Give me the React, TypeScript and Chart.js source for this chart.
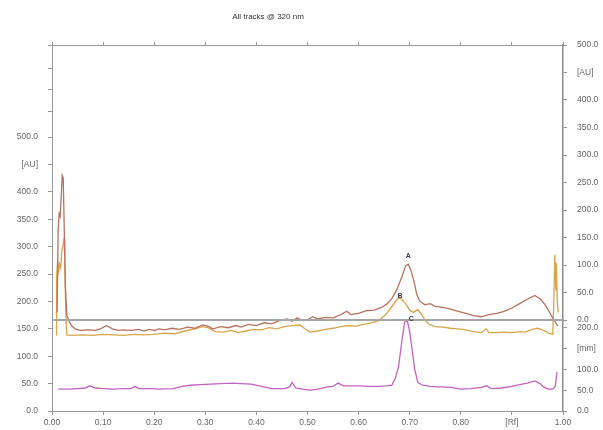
import { useEffect, useRef } from "react";
import { Chart, registerables } from "chart.js";
Chart.register(...registerables);

const titleText = "All tracks @ 320 nm";

// Track A (brown)
const rfA = [0.010, 0.012, 0.014, 0.016, 0.018, 0.020, 0.022, 0.024, 0.026, 0.029, 0.033, 0.038, 0.045, 0.055, 0.07, 0.085, 0.095, 0.107, 0.118, 0.13, 0.14, 0.155, 0.17, 0.18, 0.19, 0.2, 0.21, 0.22, 0.235, 0.25, 0.265, 0.28, 0.295, 0.305, 0.315, 0.33, 0.345, 0.36, 0.37, 0.385, 0.40, 0.415, 0.43, 0.445, 0.46, 0.47, 0.48, 0.49, 0.50, 0.51, 0.52, 0.535, 0.55, 0.565, 0.577, 0.585, 0.60, 0.615, 0.63, 0.645, 0.655, 0.665, 0.675, 0.685, 0.692, 0.697, 0.702, 0.708, 0.714, 0.72, 0.73, 0.74, 0.75, 0.765, 0.78, 0.795, 0.81, 0.825, 0.84, 0.855, 0.87, 0.885, 0.90, 0.915, 0.93, 0.945, 0.955, 0.965, 0.975, 0.985, 0.99];
const auA = [180, 330, 360, 355, 390, 430, 425, 330, 230, 175, 165, 156, 150, 147, 148, 147, 150, 156, 150, 147, 148, 147, 149, 146, 149, 147, 150, 148, 151, 149, 153, 151, 157, 155, 150, 154, 152, 156, 153, 158, 156, 161, 159, 165, 168, 164, 170, 165, 166, 172, 168, 171, 170, 176, 182, 176, 178, 183, 184, 189, 195, 205, 222, 246, 265, 268, 258, 238, 212, 200, 194, 196, 191, 189, 186, 182, 178, 174, 172, 176, 178, 182, 188, 196, 204, 211, 205, 194, 178, 162, 155];

// Track B (gold)
const rfB = [0.008, 0.009, 0.011, 0.013, 0.015, 0.017, 0.019, 0.022, 0.024, 0.025, 0.027, 0.029, 0.04, 0.06, 0.08, 0.10, 0.12, 0.14, 0.16, 0.18, 0.2, 0.22, 0.24, 0.26, 0.28, 0.295, 0.305, 0.32, 0.335, 0.35, 0.365, 0.38, 0.395, 0.41, 0.425, 0.44, 0.455, 0.47, 0.485, 0.495, 0.505, 0.52, 0.535, 0.55, 0.565, 0.58, 0.595, 0.61, 0.625, 0.64, 0.655, 0.667, 0.675, 0.68, 0.685, 0.692, 0.70, 0.707, 0.716, 0.722, 0.73, 0.738, 0.75, 0.765, 0.78, 0.795, 0.81, 0.825, 0.84, 0.85, 0.855, 0.87, 0.885, 0.90, 0.915, 0.925, 0.94, 0.95, 0.96, 0.972, 0.98, 0.982, 0.984, 0.986, 0.987, 0.989, 0.991];
const auB = [139, 240, 275, 255, 268, 262, 290, 305, 316, 280, 180, 139, 138, 139, 138, 140, 139, 138, 140, 139, 140, 142, 141, 146, 150, 154, 152, 145, 144, 147, 143, 146, 149, 148, 152, 150, 154, 156, 157, 150, 144, 146, 149, 151, 154, 156, 155, 158, 161, 165, 178, 193, 203, 208, 203, 196, 184, 180, 185, 178, 166, 158, 154, 153, 151, 150, 148, 145, 143, 150, 143, 143, 144, 143, 145, 144, 149, 151, 148, 142, 140, 200, 285, 220, 270, 195, 180];

// Track C (magenta)
const rfC = [0.012, 0.03, 0.05, 0.065, 0.074, 0.085, 0.1, 0.12, 0.14, 0.155, 0.162, 0.17, 0.19, 0.21, 0.237, 0.255, 0.27, 0.29, 0.31, 0.33, 0.354, 0.37, 0.39, 0.41, 0.43, 0.455, 0.465, 0.47, 0.477, 0.49, 0.505, 0.52, 0.54, 0.55, 0.56, 0.57, 0.585, 0.60, 0.62, 0.64, 0.655, 0.665, 0.672, 0.678, 0.685, 0.69, 0.695, 0.70, 0.705, 0.71, 0.716, 0.725, 0.74, 0.76, 0.78, 0.80, 0.82, 0.84, 0.85, 0.86, 0.88, 0.90, 0.915, 0.93, 0.945, 0.955, 0.962, 0.97, 0.98, 0.985, 0.988];
const auC = [40, 40, 41, 42, 46, 42, 41, 40, 41, 41, 45, 41, 41, 40, 41, 45, 47, 48, 49, 50, 51, 50, 49, 45, 41, 41, 44, 52, 42, 40, 38, 40, 44, 45, 51, 46, 46, 46, 45, 45, 46, 47, 60, 80, 130, 162, 166, 145, 110, 75, 52, 47, 45, 44, 43, 40, 41, 43, 46, 41, 42, 45, 48, 51, 55, 50, 44, 40, 40, 45, 71];

// Zero line of the upper right axis, in left-axis units
const baselineAU = 166;

// Peak labels
const peakNames = ["A", "B", "C"];
const peakRf = [0.697, 0.681, 0.703];
const peakAU = [283, 210, 167];

// Axis ticks
const xTicks = [0, 0.1, 0.2, 0.3, 0.4, 0.5, 0.6, 0.7, 0.8, 0.9, 1.0];
const xTickLabels = ["0.00", "0.10", "0.20", "0.30", "0.40", "0.50", "0.60", "0.70", "0.80", "[Rf]", "1.00"];
const leftTicks = [0, 50, 100, 150, 200, 250, 300, 350, 400, 450, 500, 546, 586, 626, 668];
const leftTickLabels = ["0.0", "50.0", "100.0", "150.0", "200.0", "250.0", "300.0", "350.0", "400.0", "[AU]", "500.0", "", "", "", ""];
const rightUpperTicks = [0, 50, 100, 150, 200, 250, 300, 350, 400, 450, 500];
const rightUpperLabels = ["0.0", "50.0", "100.0", "150.0", "200.0", "250.0", "300.0", "350.0", "400.0", "[AU]", "500.0"];
const rightLowerTicks = [0, 50, 100, 150, 200];
const rightLowerLabels = ["0.0", "50.0", "100.0", "[mm]", "200.0"];

const FONT = "'Liberation Sans', Arial, sans-serif";
const tickFont = { family: FONT, size: 8.5 };
const TXT = "#666";
const AXIS = "#999";

function pts(xs: number[], ys: number[]) {
  return xs.map((x, i) => ({ x, y: ys[i] }));
}

const peakLabelPlugin = {
  id: "peakLabels",
  afterDatasetsDraw(chart: any) {
    const ctx = chart.ctx;
    const xs = chart.scales.x;
    const ys = chart.scales.y;
    ctx.save();
    ctx.font = `bold 7px ${FONT}`;
    ctx.fillStyle = "#3a3f55";
    ctx.textAlign = "center";
    ctx.textBaseline = "middle";
    peakNames.forEach((n, i) => {
      ctx.fillText(n, xs.getPixelForValue(peakRf[i]), ys.getPixelForValue(peakAU[i]));
    });
    ctx.restore();
  },
};

export default function App() {
  const ref = useRef<HTMLCanvasElement | null>(null);
  useEffect(() => {
    if (!ref.current) return;
    const line = (data: any, color: string, w = 1.3) => ({
      data,
      borderColor: color,
      backgroundColor: color,
      borderWidth: w,
      pointRadius: 0,
      tension: 0,
      fill: false,
      xAxisID: "x",
      yAxisID: "y",
    });
    const chart = new Chart(ref.current, {
      type: "line",
      data: {
        datasets: [
          line([{ x: 0, y: baselineAU }, { x: 1, y: baselineAU }], "#a6a6a6", 2),
          line(pts(rfA, auA), "#b6735f"),
          line(pts(rfB, auB), "#d8a64c"),
          line(pts(rfC, auC), "#c462c4"),
        ] as any,
      },
      options: {
        animation: false,
        responsive: false,
        maintainAspectRatio: false,
        layout: { padding: 0 },
        plugins: { legend: { display: false }, tooltip: { enabled: false }, title: { display: false } },
        scales: {
          x: {
            type: "linear",
            position: "bottom",
            min: 0,
            max: 1,
            afterBuildTicks: (s: any) => { s.ticks = xTicks.map((v) => ({ value: v })); },
            ticks: { callback: (_v: any, i: number) => xTickLabels[i], font: tickFont, color: TXT, padding: 3, maxRotation: 0, autoSkip: false },
            grid: { drawOnChartArea: false, tickLength: 4, color: AXIS },
            border: { color: AXIS, width: 1 },
            afterFit: (s: any) => { s.height = 19; },
          },
          xTop: {
            type: "linear",
            position: "top",
            min: 0,
            max: 1,
            afterBuildTicks: (s: any) => { s.ticks = xTicks.map((v) => ({ value: v })); },
            ticks: { display: false },
            grid: { drawOnChartArea: false, tickLength: 3, color: AXIS },
            border: { color: AXIS, width: 1 },
            afterFit: (s: any) => { s.height = 45; },
          },
          y: {
            type: "linear",
            position: "left",
            min: 0,
            max: 668,
            afterBuildTicks: (s: any) => { s.ticks = leftTicks.map((v) => ({ value: v })); },
            ticks: { callback: (_v: any, i: number) => leftTickLabels[i], font: tickFont, color: TXT, padding: 10, autoSkip: false },
            grid: { drawOnChartArea: false, tickLength: 4, color: AXIS },
            border: { color: AXIS, width: 1 },
            afterFit: (s: any) => { s.width = 52; },
          },
          yR1: {
            type: "linear",
            position: "right",
            stack: "right",
            stackWeight: 275,
            min: 0,
            max: 500,
            afterBuildTicks: (s: any) => { s.ticks = rightUpperTicks.map((v) => ({ value: v })); },
            ticks: { callback: (_v: any, i: number) => rightUpperLabels[i], font: tickFont, color: TXT, padding: 10, autoSkip: false },
            grid: { drawOnChartArea: false, tickLength: 4, color: AXIS },
            border: { color: "#8c8c8c", width: 1.5 },
            afterFit: (s: any) => { s.width = 40; },
          },
          yR2: {
            type: "linear",
            position: "right",
            stack: "right",
            stackWeight: 91,
            min: 0,
            max: 219,
            afterBuildTicks: (s: any) => { s.ticks = rightLowerTicks.map((v) => ({ value: v })); },
            ticks: { callback: (_v: any, i: number) => rightLowerLabels[i], font: tickFont, color: TXT, padding: 10, autoSkip: false },
            grid: { drawOnChartArea: false, tickLength: 4, color: AXIS },
            border: { color: "#8c8c8c", width: 1.5 },
            afterFit: (s: any) => { s.width = 40; },
          },
        },
      } as any,
      plugins: [peakLabelPlugin],
    });
    return () => chart.destroy();
  }, []);

  return (
    <div style={{ position: "absolute", left: 0, top: 0, width: 603, height: 430, background: "#fff" }}>
      <div
        style={{
          position: "absolute",
          left: 0,
          top: 12,
          width: 536,
          textAlign: "center",
          fontFamily: FONT,
          fontSize: 8,
          lineHeight: "10px",
          color: "#333",
        }}
      >
        {titleText}
      </div>
      <canvas ref={ref} width={603} height={430} style={{ display: "block", width: 603, height: 430 }} />
    </div>
  );
}
